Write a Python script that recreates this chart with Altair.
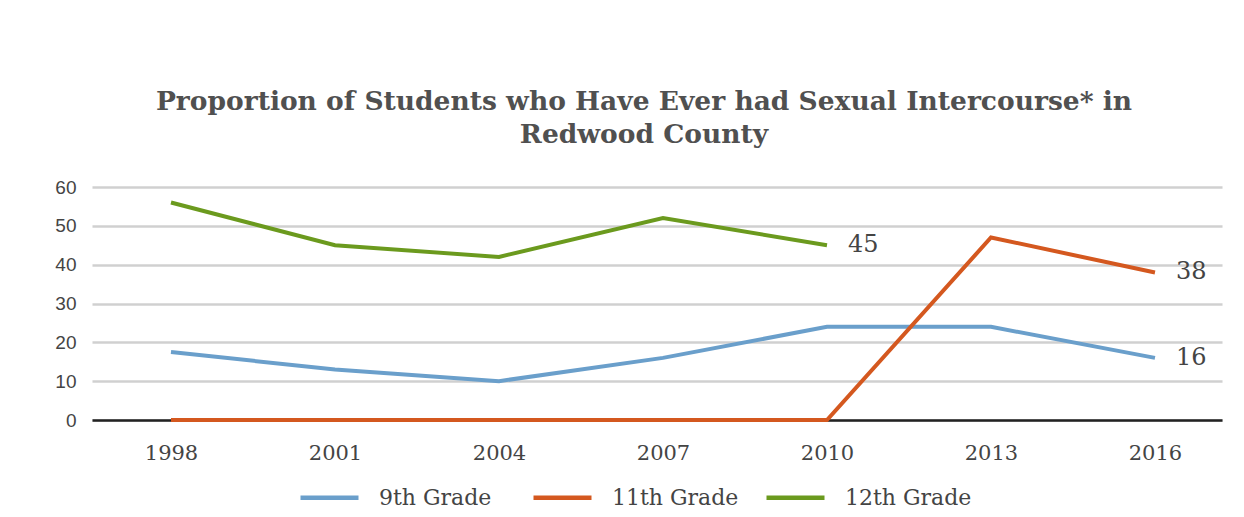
import altair as alt
import pandas as pd

years = [1998, 2001, 2004, 2007, 2010, 2013, 2016]
grade9 = [17.5, 13, 10, 16, 24, 24, 16]
grade11 = [0, 0, 0, 0, 0, 47, 38]
grade12 = [56, 45, 42, 52, 45, None, None]
series_names = ["9th Grade", "11th Grade", "12th Grade"]
series_colors = ["#6a9fcb", "#d4581f", "#6b9a1e"]
title_lines = ["Proportion of Students who Have Ever had Sexual Intercourse* in",
               "Redwood County"]
y_ticks = [0, 10, 20, 30, 40, 50, 60]

rows = []
for name, vals in zip(series_names, [grade9, grade11, grade12]):
    for yr, v in zip(years, vals):
        if v is not None:
            rows.append({"year": yr, "grade": name, "value": v})
df = pd.DataFrame(rows)

# end labels: last available point of each series
lab_rows = []
for name, vals in zip(series_names, [grade9, grade11, grade12]):
    last = [(yr, v) for yr, v in zip(years, vals) if v is not None][-1]
    lab_rows.append({"year": last[0], "grade": name, "value": last[1],
                     "txt": str(int(round(last[1])))})
labels = pd.DataFrame(lab_rows)

xscale = alt.Scale(domain=[1996.555, 2017.226], nice=False, zero=False)
yscale = alt.Scale(domain=[0, 60], nice=False)
xaxis = alt.Axis(values=years, format="d", title=None, grid=False, ticks=False,
                 domain=True, domainColor="#222", domainWidth=2.5,
                 labelFont="DejaVu Serif", labelFontSize=21, labelColor="#444",
                 labelPadding=22, labelOverlap=False)
yaxis = alt.Axis(values=y_ticks, title=None, domain=False, ticks=False,
                 gridColor="#d0d0d0", gridWidth=2.5, labelOverlap=False,
                 labelFont="Liberation Sans", labelFontSize=19, labelColor="#444",
                 labelPadding=16)
color = alt.Color("grade:N", scale=alt.Scale(domain=series_names, range=series_colors),
                  sort=series_names,
                  legend=alt.Legend(title=None, orient="none", legendX=206, legendY=279,
                                    direction="horizontal", symbolType="stroke",
                                    symbolSize=3364, symbolStrokeWidth=4.5,
                                    labelFont="DejaVu Serif", labelFontSize=22,
                                    labelColor="#444", labelOffset=18,
                                    columnPadding=18, gridAlign="all"))

lines = alt.Chart(df).mark_line(strokeWidth=4).encode(
    x=alt.X("year:Q", scale=xscale, axis=xaxis),
    y=alt.Y("value:Q", scale=yscale, axis=yaxis),
    color=color,
    detail="grade:N",
)

text = alt.Chart(labels).mark_text(align="left", baseline="middle", dx=21,
                                   font="DejaVu Serif", fontSize=24, color="#444").encode(
    x=alt.X("year:Q", scale=xscale, axis=xaxis),
    y=alt.Y("value:Q", scale=yscale, axis=yaxis),
    text="txt:N",
)

chart = alt.layer(lines, text).properties(
    width=1130, height=233,
    autosize=alt.AutoSizeParams(type="none"),
    padding={"left": 84, "top": 179, "right": 10, "bottom": 89},
    title=alt.TitleParams(text=title_lines, anchor="middle", frame="group",
                          font="DejaVu Serif", fontSize=26.5, fontWeight="bold",
                          color="#505050", lineHeight=33, offset=30, dx=-13),
).configure_view(stroke=None)

chart.save("out.html", embed_options={"renderer": "svg", "actions": False})
